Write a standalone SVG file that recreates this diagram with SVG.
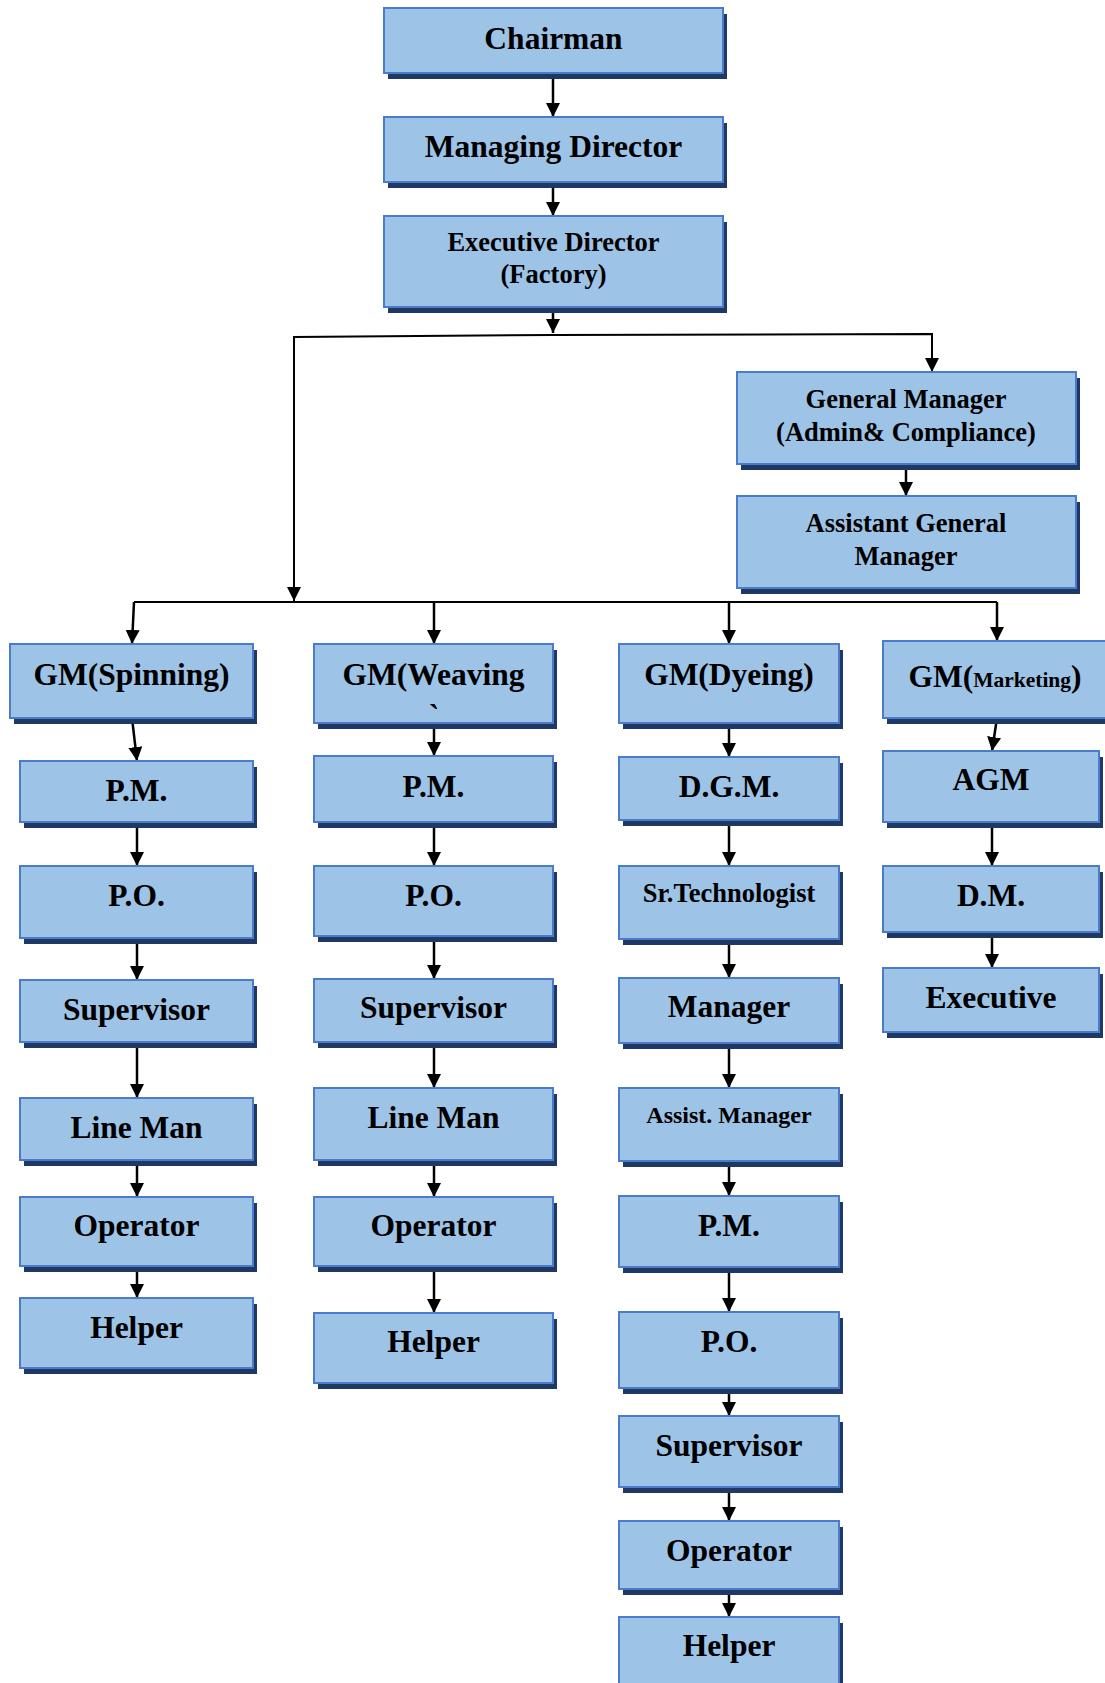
<svg xmlns="http://www.w3.org/2000/svg" width="1105" height="1683" viewBox="0 0 1105 1683">
  <style>
    .box { fill: #9dc3e6; stroke: #4a7cc9; stroke-width: 2; }
    .shadow { fill: #203864; }
    .t { font-family: "Liberation Serif", "Times New Roman", serif; font-weight: bold; fill: #000; text-anchor: middle; font-size: 31.5px; }
    .s { font-size: 26.5px; }
    .xs { font-size: 24px; }
    .link { fill: none; stroke: #000; stroke-width: 2.5; }
    .bus { fill: none; stroke: #000; stroke-width: 2; }
  </style>
  <defs>
    <marker id="arrow" viewBox="0 0 14 14" refX="14" refY="7" markerWidth="14" markerHeight="14" markerUnits="userSpaceOnUse" orient="auto">
      <path d="M0,0 L14,7 L0,14 z" fill="#000"/>
    </marker>
  </defs>
  <rect width="1105" height="1683" fill="#fff"/>

  <!-- connectors -->
  <g id="connectors">
    <path class="link" d="M553,73 L553,117" marker-end="url(#arrow)"/>
    <path class="link" d="M553,182 L553,216" marker-end="url(#arrow)"/>
    <path class="link" d="M553,307 L553,333" marker-end="url(#arrow)"/>
    <path class="bus" d="M553,335 L294,337 L294,601" marker-end="url(#arrow)"/>
    <path class="bus" d="M553,335 L932,334 L932,372" marker-end="url(#arrow)"/>
    <path class="link" d="M906,464 L906,496" marker-end="url(#arrow)"/>
    <!-- division bus -->
    <path class="bus" d="M134,602 L997,602"/>
    <path class="link" d="M134,602 L132,644" marker-end="url(#arrow)"/>
    <path class="link" d="M434,602 L434,644" marker-end="url(#arrow)"/>
    <path class="link" d="M729,602 L729,644" marker-end="url(#arrow)"/>
    <path class="link" d="M997,602 L997,641" marker-end="url(#arrow)"/>
    <!-- spinning -->
    <path class="link" d="M132,718 L137,761" marker-end="url(#arrow)"/>
    <path class="link" d="M137,822 L137,866" marker-end="url(#arrow)"/>
    <path class="link" d="M137,938 L137,980" marker-end="url(#arrow)"/>
    <path class="link" d="M137,1042 L137,1098" marker-end="url(#arrow)"/>
    <path class="link" d="M137,1160 L137,1197" marker-end="url(#arrow)"/>
    <path class="link" d="M137,1266 L137,1298" marker-end="url(#arrow)"/>
    <!-- weaving -->
    <path class="link" d="M434,723 L434,756" marker-end="url(#arrow)"/>
    <path class="link" d="M434,822 L434,866" marker-end="url(#arrow)"/>
    <path class="link" d="M434,936 L434,979" marker-end="url(#arrow)"/>
    <path class="link" d="M434,1042 L434,1088" marker-end="url(#arrow)"/>
    <path class="link" d="M434,1160 L434,1197" marker-end="url(#arrow)"/>
    <path class="link" d="M434,1266 L434,1313" marker-end="url(#arrow)"/>
    <!-- dyeing -->
    <path class="link" d="M729,723 L729,757" marker-end="url(#arrow)"/>
    <path class="link" d="M729,820 L729,866" marker-end="url(#arrow)"/>
    <path class="link" d="M729,939 L729,978" marker-end="url(#arrow)"/>
    <path class="link" d="M729,1043 L729,1088" marker-end="url(#arrow)"/>
    <path class="link" d="M729,1161 L729,1196" marker-end="url(#arrow)"/>
    <path class="link" d="M729,1267 L729,1312" marker-end="url(#arrow)"/>
    <path class="link" d="M729,1388 L729,1416" marker-end="url(#arrow)"/>
    <path class="link" d="M729,1487 L729,1521" marker-end="url(#arrow)"/>
    <path class="link" d="M729,1589 L729,1617" marker-end="url(#arrow)"/>
    <!-- marketing -->
    <path class="link" d="M997,718 L992,751" marker-end="url(#arrow)"/>
    <path class="link" d="M992,822 L992,866" marker-end="url(#arrow)"/>
    <path class="link" d="M992,932 L992,968" marker-end="url(#arrow)"/>
  </g>

  <!-- top management -->
  <g id="chairman"><rect class="shadow" x="388" y="14" width="339" height="65"/><rect class="box" x="384" y="8" width="339" height="65"/><text class="t" x="553.5" y="49">Chairman</text></g>
  <g id="managing-director"><rect class="shadow" x="388" y="123" width="339" height="65"/><rect class="box" x="384" y="117" width="339" height="65"/><text class="t" x="553.5" y="157">Managing Director</text></g>
  <g id="executive-director"><rect class="shadow" x="388" y="222" width="339" height="91"/><rect class="box" x="384" y="216" width="339" height="91"/><text class="t s" x="553.5" y="251">Executive Director</text><text class="t s" x="553.5" y="283">(Factory)</text></g>
  <g id="gm-admin"><rect class="shadow" x="741" y="378" width="339" height="92"/><rect class="box" x="737" y="372" width="339" height="92"/><text class="t s" x="906" y="408">General Manager</text><text class="t s" x="906" y="441">(Admin&amp; Compliance)</text></g>
  <g id="agm-admin"><rect class="shadow" x="741" y="502" width="339" height="92"/><rect class="box" x="737" y="496" width="339" height="92"/><text class="t s" x="906" y="532">Assistant General</text><text class="t s" x="906" y="565">Manager</text></g>

  <!-- spinning -->
  <g id="gm-spinning"><rect class="shadow" x="14" y="650" width="243" height="74"/><rect class="box" x="10" y="644" width="243" height="74"/><text class="t" x="131.5" y="685">GM(Spinning)</text></g>
  <g id="spin-pm"><rect class="shadow" x="24" y="767" width="233" height="61"/><rect class="box" x="20" y="761" width="233" height="61"/><text class="t" x="136.5" y="801">P.M.</text></g>
  <g id="spin-po"><rect class="shadow" x="24" y="872" width="233" height="72"/><rect class="box" x="20" y="866" width="233" height="72"/><text class="t" x="136.5" y="906">P.O.</text></g>
  <g id="spin-supervisor"><rect class="shadow" x="24" y="986" width="233" height="62"/><rect class="box" x="20" y="980" width="233" height="62"/><text class="t" x="136.5" y="1020">Supervisor</text></g>
  <g id="spin-lineman"><rect class="shadow" x="24" y="1104" width="233" height="62"/><rect class="box" x="20" y="1098" width="233" height="62"/><text class="t" x="136.5" y="1138">Line Man</text></g>
  <g id="spin-operator"><rect class="shadow" x="24" y="1203" width="233" height="69"/><rect class="box" x="20" y="1197" width="233" height="69"/><text class="t" x="136.5" y="1236">Operator</text></g>
  <g id="spin-helper"><rect class="shadow" x="24" y="1304" width="233" height="70"/><rect class="box" x="20" y="1298" width="233" height="70"/><text class="t" x="136.5" y="1338">Helper</text></g>

  <!-- weaving -->
  <g id="gm-weaving"><rect class="shadow" x="318" y="650" width="239" height="79"/><rect class="box" x="314" y="644" width="239" height="79"/><text class="t" x="433.5" y="685">GM(Weaving</text><text class="t" x="434" y="726">`</text></g>
  <g id="weave-pm"><rect class="shadow" x="318" y="762" width="239" height="66"/><rect class="box" x="314" y="756" width="239" height="66"/><text class="t" x="433.5" y="797">P.M.</text></g>
  <g id="weave-po"><rect class="shadow" x="318" y="872" width="239" height="70"/><rect class="box" x="314" y="866" width="239" height="70"/><text class="t" x="433.5" y="906">P.O.</text></g>
  <g id="weave-supervisor"><rect class="shadow" x="318" y="985" width="239" height="63"/><rect class="box" x="314" y="979" width="239" height="63"/><text class="t" x="433.5" y="1018">Supervisor</text></g>
  <g id="weave-lineman"><rect class="shadow" x="318" y="1094" width="239" height="72"/><rect class="box" x="314" y="1088" width="239" height="72"/><text class="t" x="433.5" y="1128">Line Man</text></g>
  <g id="weave-operator"><rect class="shadow" x="318" y="1203" width="239" height="69"/><rect class="box" x="314" y="1197" width="239" height="69"/><text class="t" x="433.5" y="1236">Operator</text></g>
  <g id="weave-helper"><rect class="shadow" x="318" y="1319" width="239" height="70"/><rect class="box" x="314" y="1313" width="239" height="70"/><text class="t" x="433.5" y="1352">Helper</text></g>

  <!-- dyeing -->
  <g id="gm-dyeing"><rect class="shadow" x="623" y="650" width="220" height="79"/><rect class="box" x="619" y="644" width="220" height="79"/><text class="t" x="729" y="685">GM(Dyeing)</text></g>
  <g id="dye-dgm"><rect class="shadow" x="623" y="763" width="220" height="63"/><rect class="box" x="619" y="757" width="220" height="63"/><text class="t" x="729" y="797">D.G.M.</text></g>
  <g id="dye-technologist"><rect class="shadow" x="623" y="872" width="220" height="73"/><rect class="box" x="619" y="866" width="220" height="73"/><text class="t s" x="729" y="902">Sr.Technologist</text></g>
  <g id="dye-manager"><rect class="shadow" x="623" y="984" width="220" height="65"/><rect class="box" x="619" y="978" width="220" height="65"/><text class="t" x="729" y="1017">Manager</text></g>
  <g id="dye-assist-manager"><rect class="shadow" x="623" y="1094" width="220" height="73"/><rect class="box" x="619" y="1088" width="220" height="73"/><text class="t xs" x="729" y="1123">Assist. Manager</text></g>
  <g id="dye-pm"><rect class="shadow" x="623" y="1202" width="220" height="71"/><rect class="box" x="619" y="1196" width="220" height="71"/><text class="t" x="729" y="1236">P.M.</text></g>
  <g id="dye-po"><rect class="shadow" x="623" y="1318" width="220" height="76"/><rect class="box" x="619" y="1312" width="220" height="76"/><text class="t" x="729" y="1352">P.O.</text></g>
  <g id="dye-supervisor"><rect class="shadow" x="623" y="1422" width="220" height="71"/><rect class="box" x="619" y="1416" width="220" height="71"/><text class="t" x="729" y="1456">Supervisor</text></g>
  <g id="dye-operator"><rect class="shadow" x="623" y="1527" width="220" height="68"/><rect class="box" x="619" y="1521" width="220" height="68"/><text class="t" x="729" y="1561">Operator</text></g>
  <g id="dye-helper"><rect class="shadow" x="623" y="1623" width="220" height="70"/><rect class="box" x="619" y="1617" width="220" height="70"/><text class="t" x="729" y="1656">Helper</text></g>

  <!-- marketing -->
  <g id="gm-marketing"><rect class="shadow" x="887" y="647" width="230" height="77"/><rect class="box" x="883" y="641" width="230" height="77"/><text class="t" x="995" y="687">GM(<tspan font-size="21.5px">Marketing</tspan>)</text></g>
  <g id="mkt-agm"><rect class="shadow" x="887" y="757" width="216" height="71"/><rect class="box" x="883" y="751" width="216" height="71"/><text class="t" x="991" y="790">AGM</text></g>
  <g id="mkt-dm"><rect class="shadow" x="887" y="872" width="216" height="66"/><rect class="box" x="883" y="866" width="216" height="66"/><text class="t" x="991" y="906">D.M.</text></g>
  <g id="mkt-executive"><rect class="shadow" x="887" y="974" width="216" height="64"/><rect class="box" x="883" y="968" width="216" height="64"/><text class="t" x="991" y="1008">Executive</text></g>
</svg>
